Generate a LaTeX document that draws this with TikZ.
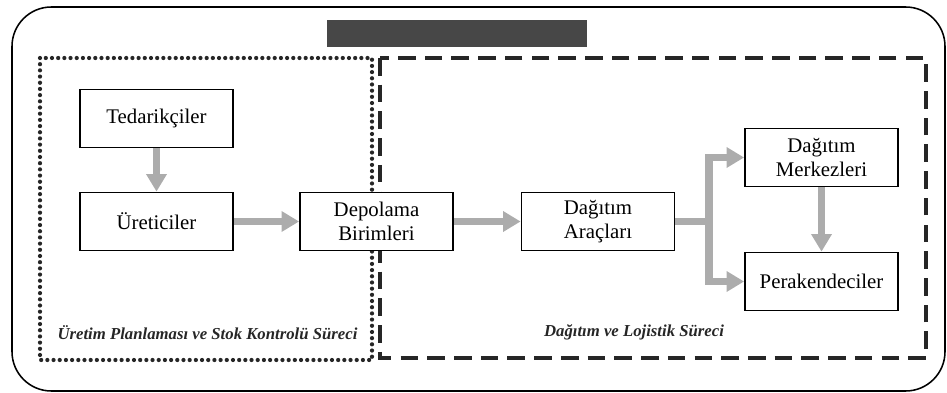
\documentclass[tikz,border=0pt]{standalone}
\usepackage{fontspec}
\setmainfont{Liberation Serif}
\usetikzlibrary{positioning, arrows.meta, calc}
\tikzset{
  box/.style={draw, line width=1.2pt, fill=white, minimum width=3.825cm, minimum height=1.45cm, inner sep=0pt, align=center, font=\fontsize{14.8}{17}\selectfont},
  arr/.style={-{Triangle[length=12.5pt, width=14pt]}, line width=5pt, gray!65},
  shaft/.style={line width=5pt, gray!65},
  dotbox/.style={line width=3pt, line cap=round, black!85, dash pattern=on 0pt off 4.4pt},
  dashbox/.style={line width=2.3pt, black!85, dash pattern=on 12.5pt off 6.5pt},
  frame/.style={line width=1.1pt, rounded corners=28pt},
  lbl/.style={font=\fontsize{11.9}{13}\selectfont\bfseries\itshape, black!85}
}
\begin{document}
\begin{tikzpicture}[x=0.025cm, y=-0.025cm]
\useasboundingbox (0,0) rectangle (947,393);
% outer frame and title bar
\draw[frame] (12,7) rectangle (945,391);
\fill[black!72] (327,20) rectangle (587,47);
% the two process regions
\draw[dashbox] (380,58) rectangle (926,358);
\draw[dotbox] (40,58) rectangle (372,360);
\node[lbl] (uretlbl) at (207.5,333) {Üretim Planlaması ve Stok Kontrolü Süreci};
\node[lbl] (lojlbl) at (634,332) {Dağıtım ve Lojistik Süreci};
% boxes
\node[box] (ted) at (156.5,118.5) {Tedarikçiler};
\node[box] (uret) at (156.5,221.5) {Üreticiler};
\node[box] (depo) at (376.5,221.5) {Depolama\\Birimleri};
\node[box] (arac) at (598,221.5) {Dağıtım\\Araçları};
\node[box] (merkez) at (821.5,157.5) {Dağıtım\\Merkezleri};
\node[box] (perak) at (821.5,281.5) {Perakendeciler};
\coordinate (split) at (709,221.5);
% flows
\draw[arr] (ted) -- (uret);
\draw[arr] (uret) -- (depo);
\draw[arr] (depo) -- (arac);
\draw[shaft] (arac.east) -- (split);
\draw[arr] (split) |- (merkez.west);
\draw[arr] (split) |- (perak.west);
\draw[arr] (merkez) -- (perak);
\end{tikzpicture}
\end{document}
